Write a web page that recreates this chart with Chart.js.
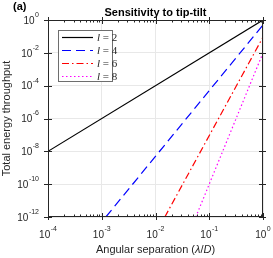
<!DOCTYPE html>
<html><head><meta charset="utf-8">
<script src="https://cdn.jsdelivr.net/npm/chart.js@4.4.0/dist/chart.umd.min.js"></script>
<style>html,body{margin:0;padding:0;background:#fff}#wrap{width:273px;height:258px}</style>
</head><body><div id="wrap"><canvas id="c" width="273" height="258"></canvas></div>
<script>
// ---- data ----
const seriesLabels = ['2', '4', '6', '8'];
const l2X = [1e-4, 1];     const l2Y = [1e-8, 1];
const l4X = [0.00119, 1];  const l4Y = [1e-12, 0.5];
const l6X = [0.0149, 1];   const l6Y = [1e-12, 0.091];
const l8X = [0.0562, 1];   const l8Y = [1e-12, 0.01];
const xTicks = [1e-4, 1e-3, 1e-2, 1e-1, 1];
const yTicks = [1e-12, 1e-10, 1e-8, 1e-6, 1e-4, 1e-2, 1];
const chartTitle = 'Sensitivity to tip-tilt';

const colors = ['#000000', '#0000ff', '#ff0000', '#ff00ff'];
const dashes = [[], [9, 5], [7, 3, 1.5, 3], [1.5, 2.5]];
const xs = [l2X, l4X, l6X, l8X], ys = [l2Y, l4Y, l6Y, l8Y];

const datasets = seriesLabels.map((s, k) => ({
  label: 'l = ' + s,
  data: xs[k].map((x, i) => ({x: x, y: ys[k][i]})),
  borderColor: colors[k], borderWidth: 1.2, borderDash: dashes[k],
  pointRadius: 0, showLine: true, fill: false
}));

const AX = '#262626';
const FAM = '"Liberation Sans", Arial, sans-serif';
function expOf(v){ return String(Math.round(Math.log10(v))); }
function measurePow(ctx, v){
  ctx.font = '10px ' + FAM; const wb = ctx.measureText('10').width;
  ctx.font = '7px ' + FAM; const we = ctx.measureText(expOf(v)).width;
  return [wb, we];
}
function drawPow(ctx, v, xLeft, yMid){
  const [wb, we] = measurePow(ctx, v);
  ctx.textAlign = 'left'; ctx.textBaseline = 'middle';
  ctx.font = '10px ' + FAM; ctx.fillText('10', xLeft, yMid);
  ctx.font = '7px ' + FAM; ctx.fillText(expOf(v), xLeft + wb + 0.5, yMid - 6);
  return wb + we + 0.5;
}

const decor = {
  id: 'decor',
  afterDraw(chart){
    const ctx = chart.ctx, a = chart.chartArea, xS = chart.scales.x, yS = chart.scales.y;
    ctx.save();
    ctx.strokeStyle = AX; ctx.lineWidth = 1;
    // ticks: minor inward, major crossing the axis
    ctx.beginPath();
    for (let d = -4; d <= 0; d++){
      for (let m = 1; m <= 9; m++){
        const v = m * Math.pow(10, d);
        if (v > 1.0001) break;
        const px = Math.round(xS.getPixelForValue(v)) + 0.5;
        if (m === 1){
          ctx.moveTo(px, a.bottom + 3); ctx.lineTo(px, a.bottom - 4);
          ctx.moveTo(px, a.top - 3); ctx.lineTo(px, a.top + 4);
        } else {
          ctx.moveTo(px, a.bottom); ctx.lineTo(px, a.bottom - 2.5);
          ctx.moveTo(px, a.top); ctx.lineTo(px, a.top + 2.5);
        }
      }
    }
    yTicks.forEach(v => {
      const py = Math.round(yS.getPixelForValue(v)) + 0.5;
      ctx.moveTo(a.left - 4, py); ctx.lineTo(a.left + 4, py);
      ctx.moveTo(a.right + 3, py); ctx.lineTo(a.right - 4, py);
    });
    ctx.stroke();
    // box
    ctx.strokeRect(Math.round(a.left) + 0.5, Math.round(a.top) + 0.5, Math.round(a.right - a.left) - 1, Math.round(a.bottom - a.top) - 1);

    // tick labels (10 with superscript exponent)
    ctx.fillStyle = AX;
    xTicks.forEach(v => {
      const [wb, we] = measurePow(ctx, v);
      const px = xS.getPixelForValue(v);
      drawPow(ctx, v, px - (wb + we + 0.5) / 2, a.bottom + 18.5);
    });
    yTicks.forEach(v => {
      const [wb, we] = measurePow(ctx, v);
      const py = yS.getPixelForValue(v);
      drawPow(ctx, v, a.left - 9 - (wb + we + 0.5), py + 1);
    });

    // title centred on the plot area
    ctx.fillStyle = '#000';
    ctx.font = 'bold 11px ' + FAM;
    ctx.textAlign = 'center'; ctx.textBaseline = 'middle';
    ctx.fillText(chartTitle, (a.left + a.right) / 2, 12.5);

    // panel label
    ctx.textAlign = 'left';
    ctx.fillText('(a)', 13, 7);

    // x axis title with italic parts
    ctx.fillStyle = AX;
    const parts = [['Angular separation (', ''], ['λ', 'italic '], ['/', ''], ['D', 'italic '], [')', '']];
    const fam = '11px ' + FAM;
    let w = 0; parts.forEach(p => { ctx.font = p[1] + fam; w += ctx.measureText(p[0]).width; });
    let x0 = (a.left + a.right) / 2 - w / 2;
    parts.forEach(p => { ctx.font = p[1] + fam; ctx.fillText(p[0], x0, 250); x0 += ctx.measureText(p[0]).width; });

    // legend
    const lx = a.left + 10, ly = a.top + 10, lw = 55, lh = 52;
    ctx.fillStyle = '#fff'; ctx.fillRect(lx, ly, lw, lh);
    ctx.strokeStyle = '#6e6e6e'; ctx.lineWidth = 1;
    ctx.strokeRect(lx + 0.5, ly + 0.5, lw - 1, lh - 1);
    datasets.forEach((ds, k) => {
      const yy = ly + 7.5 + k * 13;
      ctx.strokeStyle = ds.borderColor; ctx.lineWidth = 1.2; ctx.setLineDash(ds.borderDash);
      ctx.beginPath(); ctx.moveTo(lx + 4, yy); ctx.lineTo(lx + 35, yy); ctx.stroke();
      ctx.setLineDash([]);
      ctx.fillStyle = AX;
      ctx.font = 'italic 11px "Liberation Serif", "Times New Roman", serif';
      ctx.fillText('l', lx + 39, yy + 0.5);
      const wl = ctx.measureText('l').width;
      ctx.font = '11px "Liberation Serif", "Times New Roman", serif';
      ctx.fillText(' = ' + seriesLabels[k], lx + 39 + wl, yy + 0.5);
    });
    ctx.restore();
  }
};

new Chart(document.getElementById('c'), {
  type: 'scatter',
  data: { datasets: datasets },
  options: {
    responsive: false, animation: false,
    layout: { padding: { left: 0, right: 10, top: 20, bottom: 0 } },
    plugins: {
      legend: { display: false }, tooltip: { enabled: false }, title: { display: false }
    },
    scales: {
      x: {
        type: 'logarithmic', min: 1e-4, max: 1,
        afterBuildTicks: s => { s.ticks = xTicks.map(v => ({ value: v })); },
        afterFit: s => { s.height = 41; },
        ticks: { display: false },
        grid: { color: '#e8e8e8', drawTicks: false },
        border: { display: false }
      },
      y: {
        type: 'logarithmic', min: 1e-12, max: 1,
        afterBuildTicks: s => { s.ticks = yTicks.map(v => ({ value: v })); },
        afterFit: s => { s.width = 48; },
        ticks: { display: false },
        grid: { color: '#e8e8e8', drawTicks: false },
        border: { display: false },
        title: { display: true, text: 'Total energy throughput', color: AX, padding: 0,
                 font: { family: FAM, size: 11 } }
      }
    }
  },
  plugins: [decor]
});
</script></body></html>
